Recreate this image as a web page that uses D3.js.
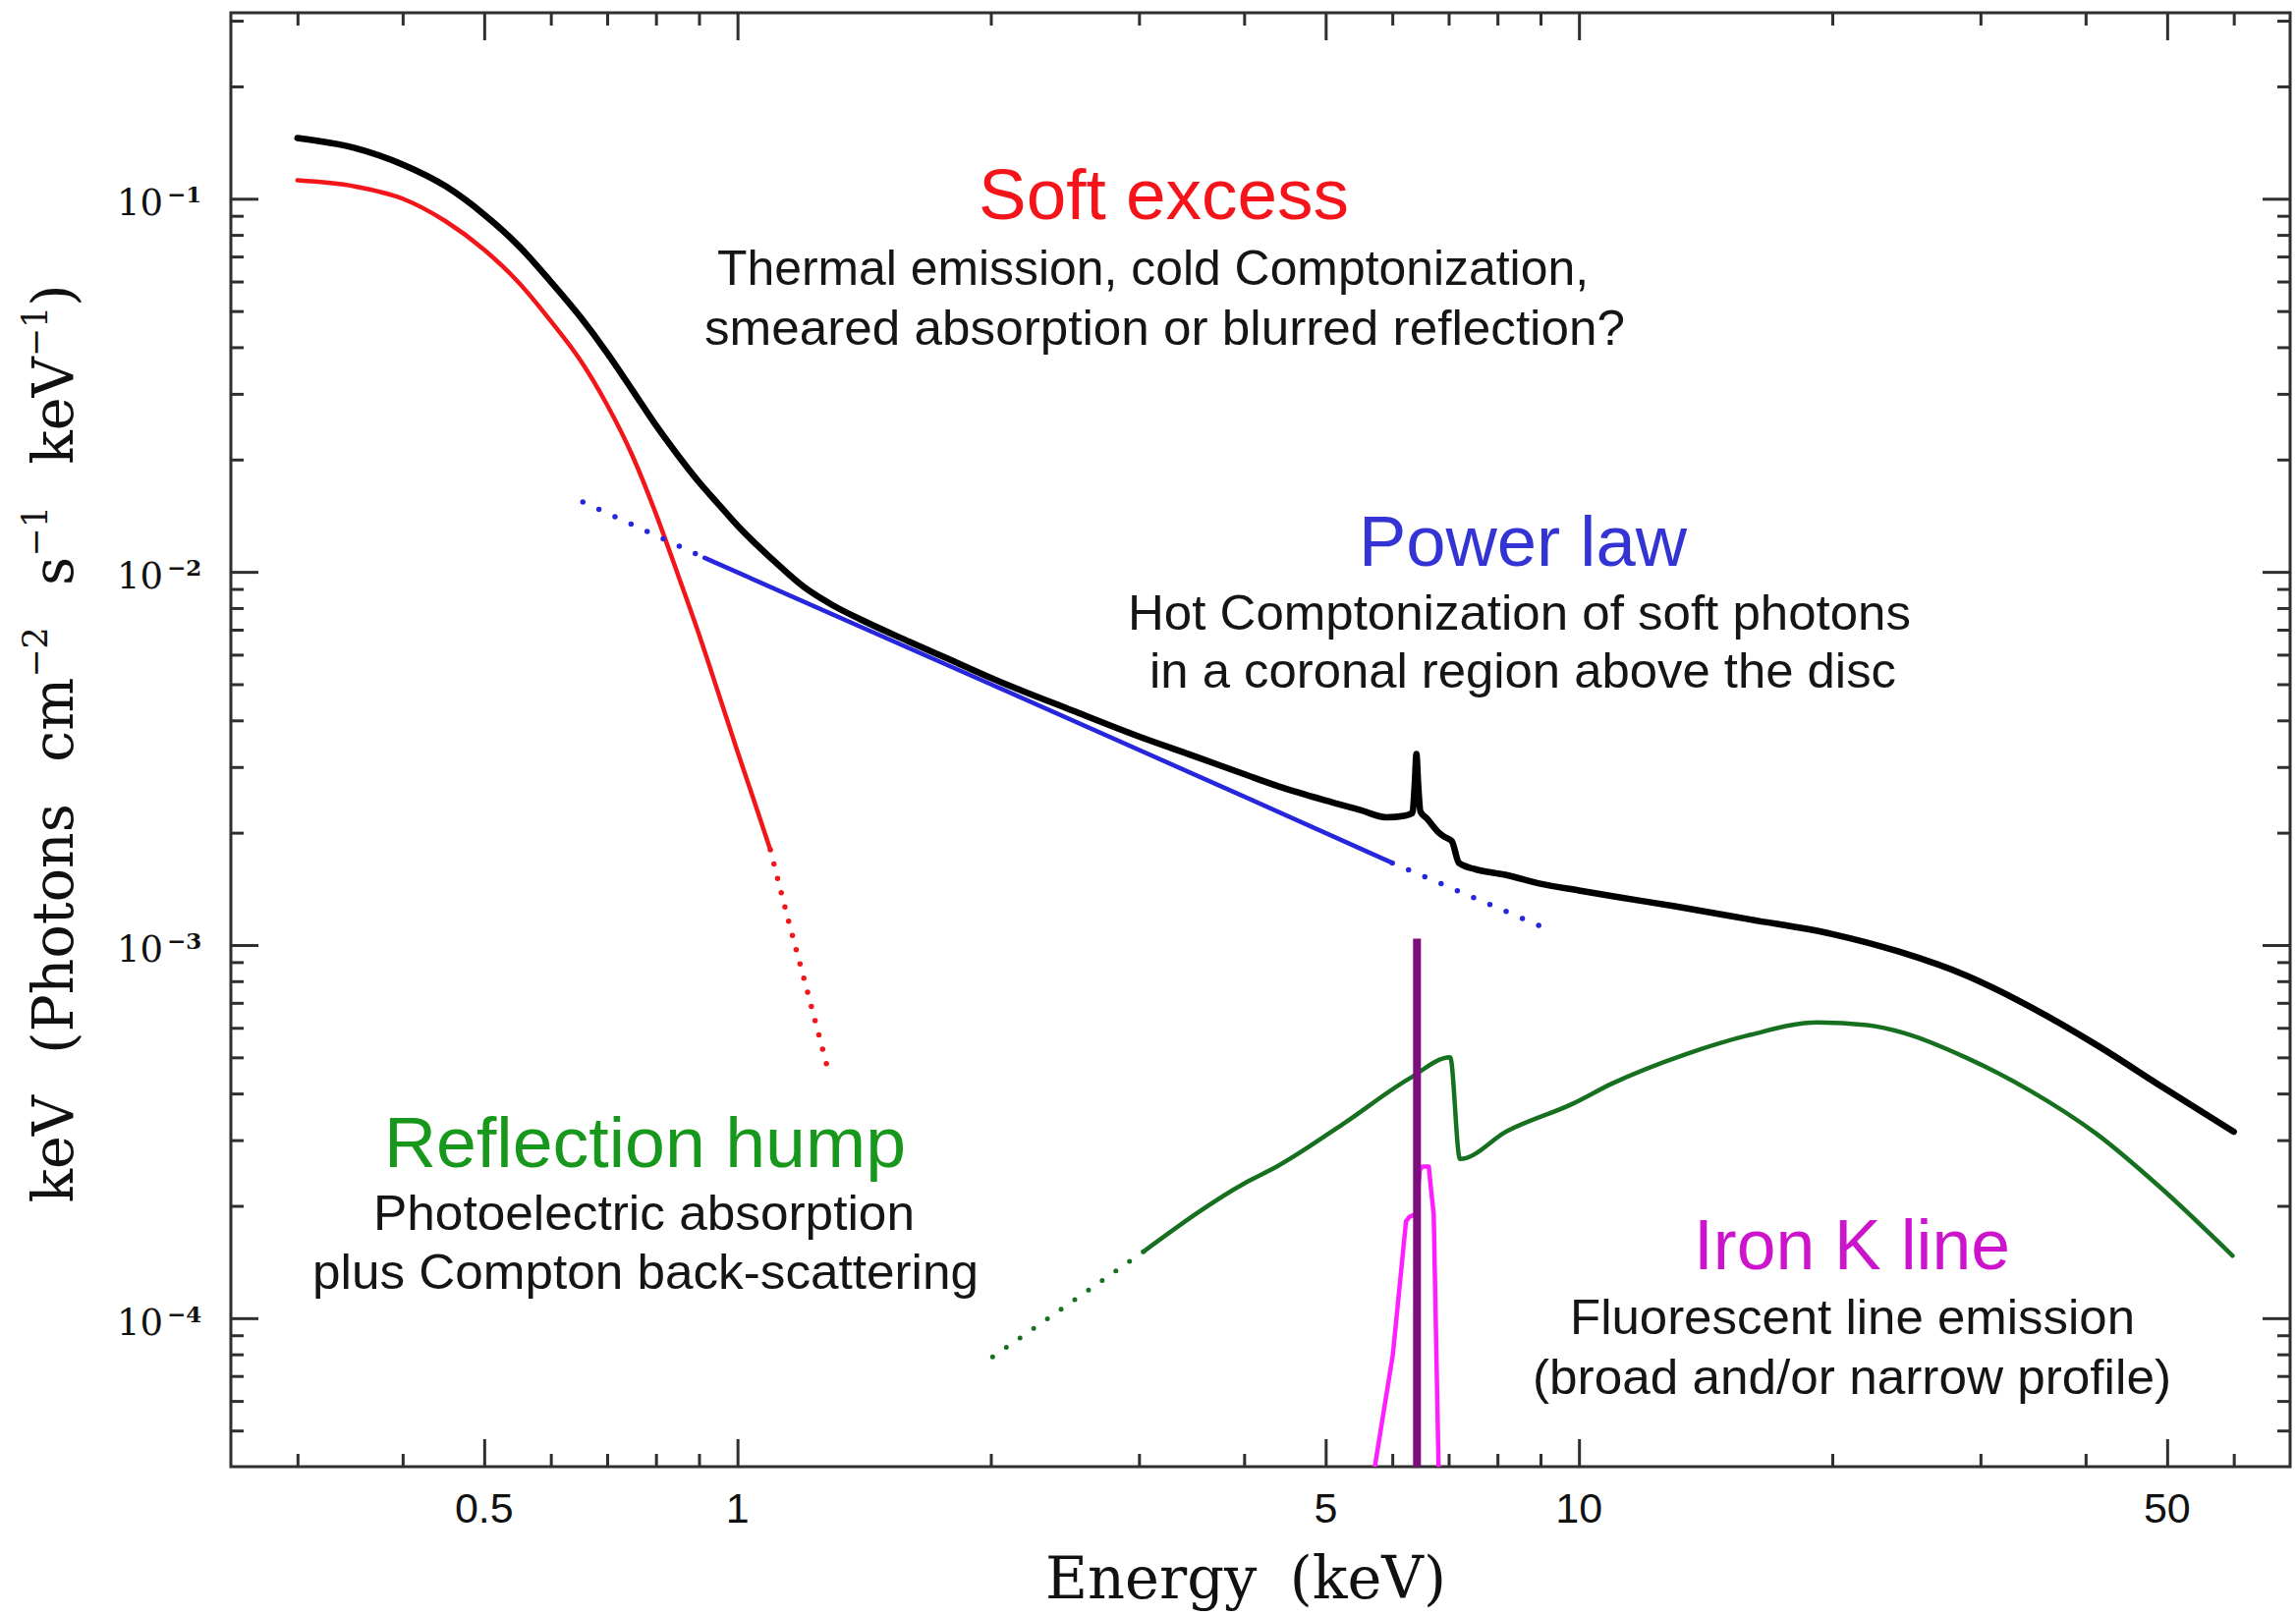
<!DOCTYPE html>
<html>
<head>
<meta charset="utf-8">
<script src="https://cdn.jsdelivr.net/npm/d3@7"></script>
<style>
  html, body { margin: 0; padding: 0; background: #ffffff; }
  svg { display: block; }
</style>
</head>
<body>
<svg id="chart" width="2337" height="1644"></svg>
<script>
// Spectral components: [energy keV, E·F(E) in keV photons cm^-2 s^-1 keV^-1]
const totalModel = [
  [0.30, 0.1455], [0.35, 0.137], [0.40, 0.1235], [0.45, 0.108], [0.50, 0.0907],
  [0.55, 0.0746], [0.60, 0.0599], [0.65, 0.0483], [0.70, 0.0386], [0.75, 0.0307],
  [0.80, 0.0247], [0.85, 0.0205], [0.90, 0.0174], [0.95, 0.01515], [1.00, 0.0133],
  [1.10, 0.0108], [1.20, 0.0091], [1.30, 0.00812], [1.40, 0.00746], [1.60, 0.0065],
  [1.80, 0.00578], [2.00, 0.0052], [2.50, 0.00425], [3.00, 0.00362], [3.50, 0.00320],
  [4.00, 0.00287], [4.40, 0.00266], [5.00, 0.00244], [5.50, 0.00230], [5.90, 0.00220],
  [6.20, 0.00222], [6.34, 0.00226], [6.38, 0.0027], [6.41, 0.00325], [6.44, 0.0027],
  [6.48, 0.00228], [6.60, 0.00218], [6.80, 0.00201], [6.92, 0.00195], [7.06, 0.00190],
  [7.20, 0.00166], [7.50, 0.00160], [8.20, 0.00154], [9.00, 0.00146], [10.0, 0.00140],
  [11.0, 0.00135], [13.0, 0.00127], [16.0, 0.00117], [20.0, 0.00107], [24.0, 0.00096],
  [28.8, 0.00083], [34.5, 0.00068], [41.2, 0.00054], [49.3, 0.000417], [60.0, 0.000316]
];

const softExcess = [
  [0.30, 0.112], [0.35, 0.108], [0.40, 0.100], [0.45, 0.087], [0.50, 0.073],
  [0.55, 0.0595], [0.60, 0.047], [0.65, 0.0370], [0.70, 0.0280], [0.75, 0.0205],
  [0.80, 0.0143], [0.85, 0.0098], [0.90, 0.0068], [0.95, 0.0047], [1.00, 0.0033],
  [1.05, 0.00238], [1.094, 0.00180]
];
const softExcessTail = [[1.094, 0.00180], [1.15, 0.00116], [1.20, 0.00081], [1.284, 0.000454]];

const powerLawLow = [[0.655, 0.0154], [0.914, 0.0109]];
const powerLaw = [[0.914, 0.0109], [2.0, 0.0050], [4.0, 0.0025], [6.0, 0.00166]];
const powerLawHigh = [[6.0, 0.00166], [9.03, 0.00112]];

const reflectionLow = [[2.01, 0.0000787], [3.04, 0.000151]];
const reflection = [
  [3.04, 0.000151], [4.02, 0.000231], [4.39, 0.000256], [5.25, 0.000332], [6.28, 0.000438],
  [7.03, 0.000500], [7.22, 0.000267], [8.21, 0.000317], [9.84, 0.000376], [10.94, 0.000425],
  [13.4, 0.000510], [16.0, 0.000575], [19.2, 0.000620], [22.0, 0.000610], [24.4, 0.000580],
  [28.8, 0.000500], [34.5, 0.000405], [41.2, 0.000312], [49.3, 0.000222], [59.8, 0.000147]
];

const ironBroad = [
  [5.60, 0.000015], [5.72, 0.000040], [6.01, 0.000080], [6.23, 0.000182], [6.29, 0.000187],
  [6.40, 0.000190], [6.47, 0.000250], [6.52, 0.000255], [6.63, 0.000255], [6.67, 0.000222],
  [6.72, 0.000190], [6.81, 0.000040], [6.84, 0.000015]
];
const ironNarrow = [[6.42, 0.00004], [6.42, 0.00104]];

// Axis ticks and labels
const xMajorTicks = [0.5, 1, 5, 10, 50];
const xTickLabels = ["0.5", "1", "5", "10", "50"];
const yMajorTicks = [1e-4, 1e-3, 1e-2, 1e-1];
const yTickExponents = ["\u22124", "\u22123", "\u22122", "\u22121"];

const W = 2337, H = 1644;
const M = { left: 235, right: 2331, top: 13, bottom: 1493 };

const svg = d3.select("#chart");
svg.append("rect").attr("width", W).attr("height", H).attr("fill", "#ffffff");

const x = d3.scaleLog().domain([0.25, 70]).range([M.left, M.right]);
const y = d3.scaleLog().domain([4e-5, 0.315]).range([M.bottom, M.top]);

const xMinor = x.ticks().filter(v => !xMajorTicks.some(m => Math.abs(m - v) < 1e-9) && v > 0.25 && v < 69);
const yMinor = y.ticks().filter(v => !yMajorTicks.some(m => Math.abs(m / v - 1) < 1e-6) && v > 4.01e-5 && v < 0.314);

const tickColor = "#2f2f2f";
function styleAxis(g) {
  g.select(".domain").remove();
  g.selectAll(".tick line").attr("stroke", tickColor).attr("stroke-width", 3);
  g.selectAll(".tick text").remove();
}
const majorLen = 28, minorLen = 13;

// Frame ticks on all four sides, pointing inward
svg.append("g").attr("transform", `translate(0,${M.bottom})`)
  .call(d3.axisBottom(x).tickValues(xMajorTicks).tickSize(-majorLen)).call(styleAxis);
svg.append("g").attr("transform", `translate(0,${M.bottom})`)
  .call(d3.axisBottom(x).tickValues(xMinor).tickSize(-minorLen)).call(styleAxis);
svg.append("g").attr("transform", `translate(0,${M.top})`)
  .call(d3.axisTop(x).tickValues(xMajorTicks).tickSize(-majorLen)).call(styleAxis);
svg.append("g").attr("transform", `translate(0,${M.top})`)
  .call(d3.axisTop(x).tickValues(xMinor).tickSize(-minorLen)).call(styleAxis);
svg.append("g").attr("transform", `translate(${M.left},0)`)
  .call(d3.axisLeft(y).tickValues(yMajorTicks).tickSize(-majorLen)).call(styleAxis);
svg.append("g").attr("transform", `translate(${M.left},0)`)
  .call(d3.axisLeft(y).tickValues(yMinor).tickSize(-minorLen)).call(styleAxis);
svg.append("g").attr("transform", `translate(${M.right},0)`)
  .call(d3.axisRight(y).tickValues(yMajorTicks).tickSize(-majorLen)).call(styleAxis);
svg.append("g").attr("transform", `translate(${M.right},0)`)
  .call(d3.axisRight(y).tickValues(yMinor).tickSize(-minorLen)).call(styleAxis);

svg.append("rect")
  .attr("x", M.left).attr("y", M.top)
  .attr("width", M.right - M.left).attr("height", M.bottom - M.top)
  .attr("fill", "none").attr("stroke", tickColor).attr("stroke-width", 3);

// Tick labels
const serif = "'DejaVu Serif', 'Liberation Serif', serif";
const sans = "'Liberation Sans', Arial, sans-serif";
svg.append("g").selectAll("text").data(xMajorTicks).join("text")
  .attr("x", d => x(d)).attr("y", M.bottom + 57)
  .attr("text-anchor", "middle")
  .style("font-family", sans).style("font-size", "43px").attr("fill", "#111")
  .text((d, i) => xTickLabels[i]);

const yl = svg.append("g").selectAll("g").data(yMajorTicks).join("g");
yl.append("text")
  .attr("x", 166).attr("y", d => y(d) + 17)
  .attr("text-anchor", "end")
  .style("font-family", serif).style("font-size", "37px").attr("fill", "#111")
  .text("10");
yl.append("text")
  .attr("x", 170).attr("y", d => y(d) + 4)
  .style("font-family", serif).style("font-size", "23px").style("font-weight", "bold").attr("fill", "#111")
  .text((d, i) => yTickExponents[i]);

// Axis titles
function fitWords(sel, target) {
  const n = sel.node();
  const natural = n.getComputedTextLength();
  const spaces = (n.textContent.match(/ /g) || []).length;
  if (spaces > 0) sel.style("word-spacing", ((target - natural) / spaces) + "px");
}
const xt = svg.append("text")
  .attr("x", 1064).attr("y", 1627)
  .style("font-family", serif).style("font-size", "59px").attr("fill", "#111")
  .text("Energy (keV)");
fitWords(xt, 408);

const yt = svg.append("text")
  .attr("transform", "translate(74,757) rotate(-90)")
  .attr("text-anchor", "middle")
  .style("font-family", serif).style("font-size", "57px").attr("fill", "#111");
const ytParts = [["keV (Photons cm", 0], ["\u22122", 1], [" s", 0], ["\u22121", 1], [" keV", 0], ["\u22121", 1], [")", 0]];
let raised = false;
ytParts.forEach(([t, sup]) => {
  const sp = yt.append("tspan").text(t);
  if (sup && !raised) { sp.attr("dy", -26).style("font-size", "35px"); raised = true; }
  else if (!sup && raised) { sp.attr("dy", 26); raised = false; }
  else if (sup) sp.style("font-size", "35px");
});
fitWords(yt, 935);

// Model curves
svg.append("clipPath").attr("id", "plotArea")
  .append("rect").attr("x", M.left).attr("y", M.top)
  .attr("width", M.right - M.left).attr("height", M.bottom - M.top);
const plot = svg.append("g").attr("clip-path", "url(#plotArea)");

const smooth = d3.line().x(d => x(d[0])).y(d => y(d[1])).curve(d3.curveMonotoneX);
const straight = d3.line().x(d => x(d[0])).y(d => y(d[1]));

function curve(data, gen, color, width, dotted, gap) {
  const p = plot.append("path").datum(data)
    .attr("d", gen).attr("fill", "none")
    .attr("stroke", color).attr("stroke-width", width)
    .attr("stroke-linejoin", "round").attr("stroke-linecap", "round");
  if (dotted) p.attr("stroke-dasharray", `0 ${gap}`);
  return p;
}

const cGreen = "#17701f", cRed = "#f2161a", cBlue = "#2626dc", cMag = "#ff1eff", cPurple = "#7d0c7d";

curve(reflectionLow, straight, cGreen, 5, true, 17);
curve(reflection, smooth, cGreen, 4.5, false);
curve(softExcess, smooth, cRed, 4.5, false);
curve(softExcessTail, smooth, cRed, 5.5, true, 15);
curve(powerLawLow, straight, cBlue, 5.5, true, 18);
curve(powerLaw, straight, cBlue, 4.5, false);
curve(powerLawHigh, straight, cBlue, 5.5, true, 18);
curve(totalModel, smooth, "#000000", 6.5, false);
curve(ironBroad, straight, cMag, 4.5, false);
curve(ironNarrow, straight, cPurple, 8, false).attr("stroke-linecap", "butt");

// Annotations
const notes = [
  { t: "Soft excess", x: 996, y: 223, w: 377, s: 72, c: "#f5141a" },
  { t: "Thermal emission, cold Comptonization,", x: 730, y: 290, w: 887, s: 50, c: "#151515" },
  { t: "smeared absorption or blurred reflection?", x: 717, y: 351, w: 937, s: 50, c: "#151515" },
  { t: "Power law", x: 1383, y: 576, w: 334, s: 72, c: "#3434d4" },
  { t: "Hot Comptonization of soft photons", x: 1148, y: 641, w: 797, s: 50, c: "#151515" },
  { t: "in a coronal region above the disc", x: 1170, y: 700, w: 760, s: 50, c: "#151515" },
  { t: "Reflection hump", x: 391, y: 1188, w: 531, s: 72, c: "#17981c" },
  { t: "Photoelectric absorption", x: 380, y: 1252, w: 551, s: 50, c: "#151515" },
  { t: "plus Compton back-scattering", x: 318, y: 1312, w: 678, s: 50, c: "#151515" },
  { t: "Iron K line", x: 1724, y: 1292, w: 322, s: 72, c: "#cc14cc" },
  { t: "Fluorescent line emission", x: 1598, y: 1358, w: 575, s: 50, c: "#151515" },
  { t: "(broad and/or narrow profile)", x: 1560, y: 1419, w: 650, s: 50, c: "#151515" }
];
svg.append("g").selectAll("text").data(notes).join("text")
  .attr("x", d => d.x).attr("y", d => d.y)
  .attr("textLength", d => d.w).attr("lengthAdjust", "spacingAndGlyphs")
  .style("font-family", sans).style("font-size", d => d.s + "px")
  .attr("fill", d => d.c)
  .text(d => d.t);
</script>
</body>
</html>
